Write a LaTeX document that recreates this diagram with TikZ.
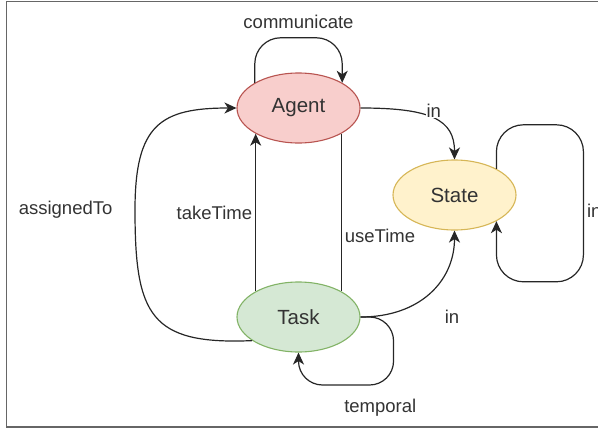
\documentclass[tikz,border=0pt]{standalone}
\usepackage{fontspec}
\setmainfont{Liberation Sans}
\usetikzlibrary{shapes.geometric,arrows.meta,positioning}
\definecolor{agentfill}{HTML}{F8CECC}
\definecolor{agentline}{HTML}{B85450}
\definecolor{statefill}{HTML}{FFF2CC}
\definecolor{stateline}{HTML}{D6B656}
\definecolor{taskfill}{HTML}{D5E8D4}
\definecolor{taskline}{HTML}{82B366}
\begin{document}
\begin{tikzpicture}[x=1pt,y=-1pt,>={Stealth[length=12pt,width=11pt,inset=3.5pt]}]
        \tikzstyle{entity}=[ellipse,line width=1.1pt,minimum width=123pt,minimum height=70pt,inner sep=0pt,text=black!80,font=\fontsize{20.5}{24}\selectfont]
        \tikzstyle{edge}=[draw,line width=1.2pt,black!85]
        \tikzstyle{rel}=[font=\fontsize{18.5}{22}\selectfont,text=black!80,inner sep=1pt]
       \useasboundingbox (0,0) rectangle (598,434);
       \draw [line width=1.5pt,black!60] (6.5,1.5) rectangle (610,427);
       \begin{scope}
         \node [entity,draw=agentline,fill=agentfill] (agent) at (298.5,108) {Agent};
         \node [entity,draw=stateline,fill=statefill] (state) at (454.5,195) {State};
         \node [entity,draw=taskline,fill=taskfill] (task) at (298.5,317) {Task};
         % agent edges
         \path[edge,->,rounded corners=26pt] (agent.150) -- ++(0,-45) -| node[rel,pos=0.25,above=7pt] {communicate} (agent.30);
         \path[edge,->] (agent.east) .. controls +(70,0) and +(0,-40) .. node[rel,pos=0.5,yshift=8pt,fill=white] {in} (state.north);
         \path[edge] (agent.329) -- node[rel,pos=0.65,right=2pt] {useTime} (task.31);
         % state loop
         \path[edge,->,rounded corners=27pt] (state.32) -- ++(0,-44) -- ++(87,0) -- node[rel,pos=0.55,right=2pt] {in} ++(0,157) -- ++(-87,0) -- (state.-32);
         % task edges
         \path[edge,->] (task.149) -- node[rel,left=2pt] {takeTime} (agent.211);
         \path[edge,->] (task.207) .. controls (150,345) and (135,315) .. (135,210) node[rel,left=21pt] {assignedTo} .. controls (135,125) and (160,108) .. (agent.west);
         \path[edge,->] (task.east) .. controls +(60,0) and +(0,50) .. node[rel,pos=0.5,xshift=22pt,yshift=-24pt] {in} (state.south);
         \path[edge,->,rounded corners=24pt] (task.east) -| ++(33,68) -| node[rel,pos=0.07,below=12pt] {temporal} (task.south);
        \end{scope}
      \end{tikzpicture}
\end{document}
